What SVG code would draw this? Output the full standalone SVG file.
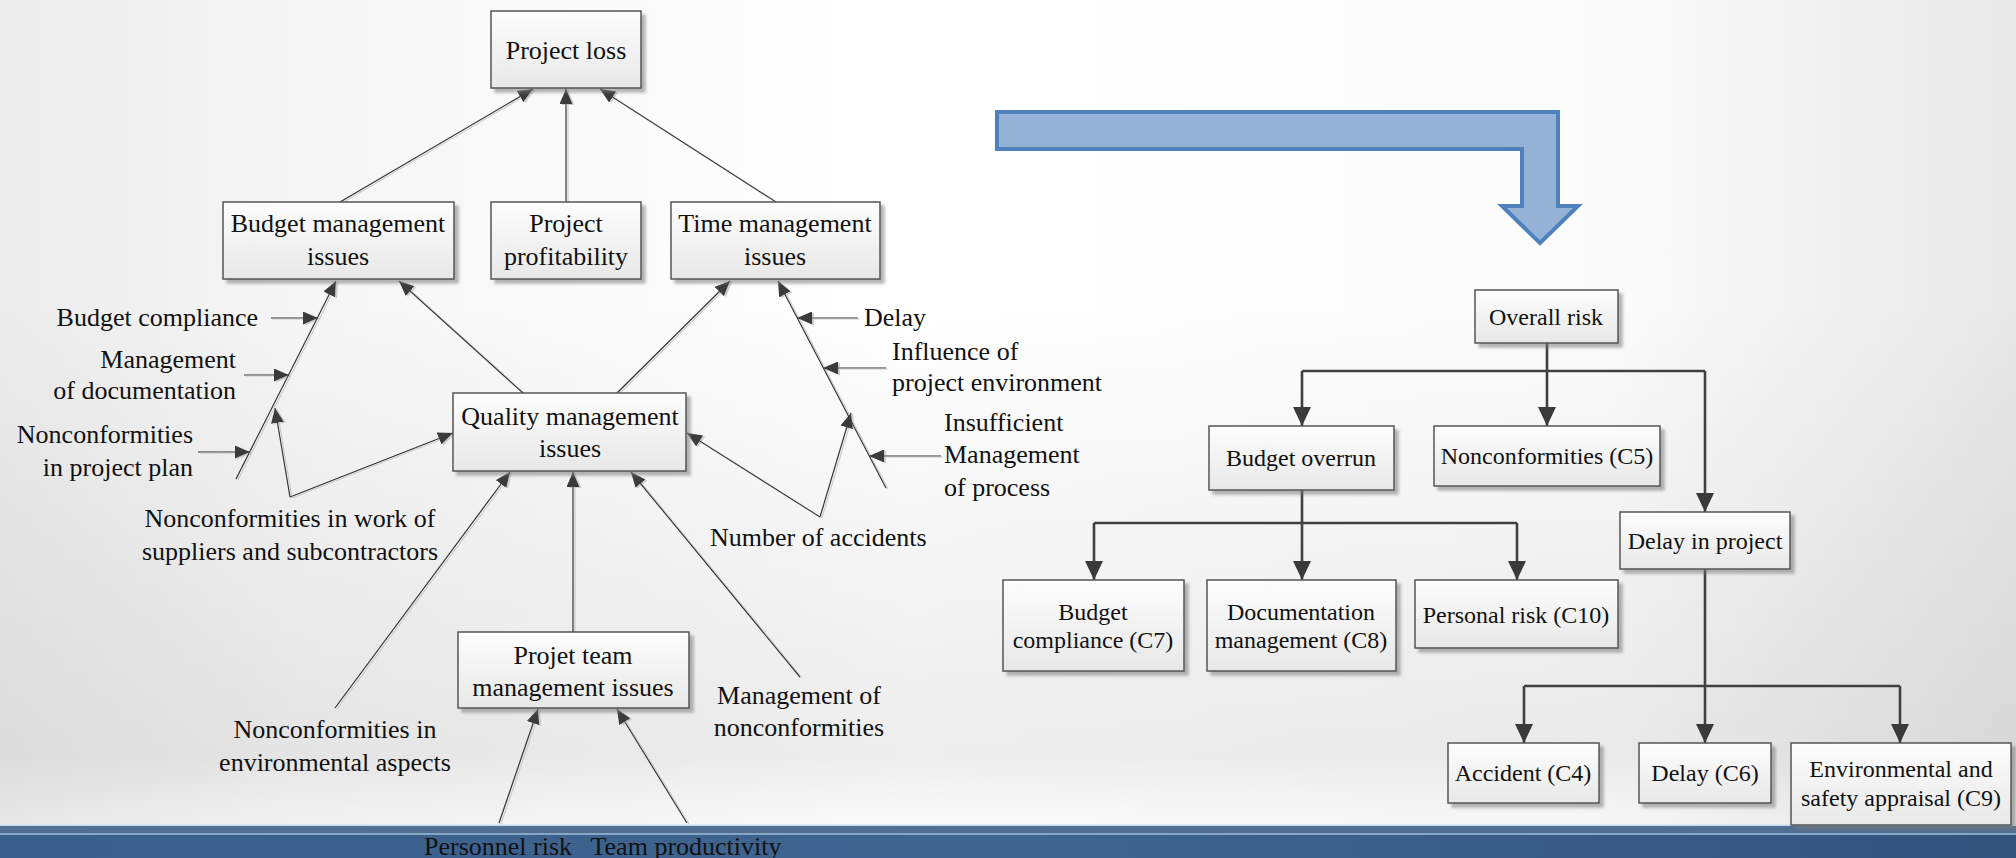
<svg xmlns="http://www.w3.org/2000/svg" width="2016" height="858" viewBox="0 0 2016 858">
  <defs>
    <linearGradient id="bg" x1="0" y1="0" x2="1" y2="0">
      <stop offset="0" stop-color="#ececec"/>
      <stop offset="0.15" stop-color="#f6f6f6"/>
      <stop offset="0.45" stop-color="#ffffff"/>
      <stop offset="0.8" stop-color="#fbfbfb"/>
      <stop offset="1" stop-color="#e8e8e8"/>
    </linearGradient>
    <linearGradient id="bgshade" x1="0" y1="0" x2="0" y2="1">
      <stop offset="0" stop-color="#000000" stop-opacity="0"/>
      <stop offset="0.35" stop-color="#000000" stop-opacity="0"/>
      <stop offset="0.88" stop-color="#000000" stop-opacity="0.07"/>
      <stop offset="0.94" stop-color="#000000" stop-opacity="0.03"/>
      <stop offset="0.96" stop-color="#000000" stop-opacity="0.02"/>
      <stop offset="1" stop-color="#000000" stop-opacity="0.02"/>
    </linearGradient>
    <linearGradient id="boxfill" x1="0" y1="0" x2="0" y2="1">
      <stop offset="0" stop-color="#fdfdfd"/>
      <stop offset="1" stop-color="#e8e8e8"/>
    </linearGradient>
    <linearGradient id="band" x1="0" y1="0" x2="1" y2="0">
      <stop offset="0" stop-color="#3a5e8c"/>
      <stop offset="0.5" stop-color="#40658f"/>
      <stop offset="1" stop-color="#33537d"/>
    </linearGradient>
    <filter id="boxshadow" x="-10%" y="-10%" width="130%" height="130%">
      <feDropShadow dx="4" dy="4" stdDeviation="1.5" flood-color="#7a7a7a" flood-opacity="0.55"/>
    </filter>
    <filter id="lineshadow" x="-5%" y="-5%" width="110%" height="110%">
      <feDropShadow dx="2" dy="1" stdDeviation="0.6" flood-color="#c8c8c8" flood-opacity="0.9"/>
    </filter>
    <marker id="ah" markerUnits="userSpaceOnUse" markerWidth="15" markerHeight="13" refX="15" refY="6.5" orient="auto">
      <path d="M0,0 L15,6.5 L0,13 z" fill="#3a3a3a"/>
    </marker>
    <marker id="ahb" markerUnits="userSpaceOnUse" markerWidth="19" markerHeight="18" refX="19" refY="9" orient="auto">
      <path d="M0,0 L19,9 L0,18 z" fill="#3a3a3a"/>
    </marker>
    <style>
      .box { fill: url(#boxfill); stroke: #555555; stroke-width: 1.5; filter: url(#boxshadow); }
      .t { font-family: "Liberation Serif", "Times New Roman", serif; font-size: 26px; fill: #111111; }
      .r { font-family: "Liberation Serif", "Times New Roman", serif; font-size: 24px; fill: #111111; }
      .c { text-anchor: middle; }
      .e { text-anchor: end; }
      .thin { fill: none; stroke: #333333; stroke-width: 1.2; marker-end: url(#ah); }
      .thick { fill: none; stroke: #404040; stroke-width: 2.6; }
      .thickarrow { fill: none; stroke: #404040; stroke-width: 2.6; marker-end: url(#ahb); }
    </style>
  </defs>

  <!-- background -->
  <rect x="0" y="0" width="2016" height="858" fill="url(#bg)"/>
  <rect x="0" y="0" width="2016" height="858" fill="url(#bgshade)"/>

  <!-- footer band -->
  <g id="footer">
    <rect x="0" y="825" width="2016" height="33" fill="url(#band)"/>
    <rect x="0" y="826" width="2016" height="7" fill="#4f6f93"/>
    <rect x="0" y="824.5" width="2016" height="1.5" fill="#c4def0"/>
    <rect x="0" y="833" width="2016" height="2" fill="#86a6c6"/>
  </g>

  <!-- left diagram connectors -->
  <g id="connectors-left" filter="url(#lineshadow)">
    <path class="thin" d="M340,202 L533,89"/>
    <path class="thin" d="M566,202 L566,89"/>
    <path class="thin" d="M776,202 L600,89"/>
    <path class="thin" d="M523,393 L399,281"/>
    <path class="thin" d="M617,393 L730,281"/>
    <path class="thin" d="M236,479 L336,281"/>
    <path class="thin" d="M271,318 L318,318"/>
    <path class="thin" d="M244,375 L289,375"/>
    <path class="thin" d="M198,452 L250,452"/>
    <path class="thin" d="M290,497 L275,408"/>
    <path class="thin" d="M290,497 L453,433"/>
    <path class="thin" d="M886,488 L778,281"/>
    <path class="thin" d="M858,318 L797,318"/>
    <path class="thin" d="M886,368 L823,368"/>
    <path class="thin" d="M941,456 L869,456"/>
    <path class="thin" d="M820,517 L851,413"/>
    <path class="thin" d="M820,517 L687,433"/>
    <path class="thin" d="M335,708 L510,472"/>
    <path class="thin" d="M573,632 L573,472"/>
    <path class="thin" d="M800,677 L631,472"/>
    <path class="thin" d="M499,823 L538,709"/>
    <path class="thin" d="M687,823 L617,709"/>
  </g>

  <!-- left diagram nodes -->
  <g id="project-loss">
    <rect class="box" x="491" y="11" width="150" height="77"/>
    <text class="t c" x="566" y="59">Project loss</text>
  </g>
  <g id="budget-management">
    <rect class="box" x="223" y="202" width="231" height="77"/>
    <text class="t c" x="338" y="232">Budget management</text>
    <text class="t c" x="338" y="265">issues</text>
  </g>
  <g id="project-profitability">
    <rect class="box" x="491" y="202" width="150" height="77"/>
    <text class="t c" x="566" y="232">Project</text>
    <text class="t c" x="566" y="265">profitability</text>
  </g>
  <g id="time-management">
    <rect class="box" x="671" y="202" width="209" height="77"/>
    <text class="t c" x="775" y="232">Time management</text>
    <text class="t c" x="775" y="265">issues</text>
  </g>
  <g id="quality-management">
    <rect class="box" x="453" y="393" width="233" height="78"/>
    <text class="t c" x="570" y="425">Quality management</text>
    <text class="t c" x="570" y="457">issues</text>
  </g>
  <g id="team-management">
    <rect class="box" x="458" y="632" width="231" height="76"/>
    <text class="t c" x="573" y="664">Projet team</text>
    <text class="t c" x="573" y="696">management issues</text>
  </g>

  <!-- left diagram factor labels -->
  <g id="budget-compliance-label">
    <text class="t e" x="258" y="326">Budget compliance</text>
  </g>
  <g id="documentation-label">
    <text class="t e" x="236" y="368">Management</text>
    <text class="t e" x="236" y="399">of documentation</text>
  </g>
  <g id="plan-label">
    <text class="t e" x="193" y="443">Nonconformities</text>
    <text class="t e" x="193" y="476">in project plan</text>
  </g>
  <g id="suppliers-label">
    <text class="t c" x="290" y="527">Nonconformities in work of</text>
    <text class="t c" x="290" y="560">suppliers and subcontractors</text>
  </g>
  <g id="delay-label">
    <text class="t" x="864" y="326">Delay</text>
  </g>
  <g id="environment-label">
    <text class="t" x="892" y="360">Influence of</text>
    <text class="t" x="892" y="391">project environment</text>
  </g>
  <g id="process-label">
    <text class="t" x="944" y="431">Insufficient</text>
    <text class="t" x="944" y="463">Management</text>
    <text class="t" x="944" y="496">of process</text>
  </g>
  <g id="accidents-label">
    <text class="t" x="710" y="546">Number of accidents</text>
  </g>
  <g id="env-aspects-label">
    <text class="t c" x="335" y="738">Nonconformities in</text>
    <text class="t c" x="335" y="771">environmental aspects</text>
  </g>
  <g id="nonconformities-mgmt-label">
    <text class="t c" x="799" y="704">Management of</text>
    <text class="t c" x="799" y="736">nonconformities</text>
  </g>
  <g id="personnel-label">
    <text class="t c" x="498" y="855">Personnel risk</text>
  </g>
  <g id="productivity-label">
    <text class="t c" x="686" y="855">Team productivity</text>
  </g>

  <!-- transition arrow -->
  <g id="transition-arrow">
    <path d="M997,112 L1558,112 L1558,206 L1578,206 L1540,243 L1502,206 L1522,206 L1522,149 L997,149 Z" fill="#95b3d7" stroke="#4f81bd" stroke-width="4" stroke-linejoin="miter"/>
  </g>

  <!-- right tree connectors -->
  <g id="connectors-right">
    <path class="thick" d="M1547,343 L1547,371 M1302,371 L1705,371"/>
    <path class="thickarrow" d="M1302,371 L1302,426"/>
    <path class="thickarrow" d="M1547,371 L1547,426"/>
    <path class="thickarrow" d="M1705,371 L1705,512"/>
    <path class="thick" d="M1302,490 L1302,523 M1094,523 L1517,523"/>
    <path class="thickarrow" d="M1094,523 L1094,580"/>
    <path class="thickarrow" d="M1302,523 L1302,580"/>
    <path class="thickarrow" d="M1517,523 L1517,580"/>
    <path class="thick" d="M1705,569 L1705,686 M1524,686 L1900,686"/>
    <path class="thickarrow" d="M1524,686 L1524,743"/>
    <path class="thickarrow" d="M1705,686 L1705,743"/>
    <path class="thickarrow" d="M1900,686 L1900,743"/>
  </g>

  <!-- right tree nodes -->
  <g id="overall-risk">
    <rect class="box" x="1475" y="290" width="143" height="53"/>
    <text class="r c" x="1546" y="325">Overall risk</text>
  </g>
  <g id="budget-overrun">
    <rect class="box" x="1209" y="426" width="185" height="64"/>
    <text class="r c" x="1301" y="466">Budget overrun</text>
  </g>
  <g id="nonconformities-c5">
    <rect class="box" x="1434" y="426" width="226" height="60"/>
    <text class="r c" x="1547" y="464">Nonconformities (C5)</text>
  </g>
  <g id="delay-in-project">
    <rect class="box" x="1620" y="512" width="170" height="57"/>
    <text class="r c" x="1705" y="549">Delay in project</text>
  </g>
  <g id="budget-compliance-c7">
    <rect class="box" x="1003" y="580" width="181" height="91"/>
    <text class="r c" x="1093" y="620">Budget</text>
    <text class="r c" x="1093" y="648">compliance (C7)</text>
  </g>
  <g id="documentation-c8">
    <rect class="box" x="1207" y="580" width="189" height="91"/>
    <text class="r c" x="1301" y="620">Documentation</text>
    <text class="r c" x="1301" y="648">management (C8)</text>
  </g>
  <g id="personal-risk-c10">
    <rect class="box" x="1415" y="580" width="203" height="68"/>
    <text class="r c" x="1516" y="623">Personal risk (C10)</text>
  </g>
  <g id="accident-c4">
    <rect class="box" x="1448" y="743" width="151" height="60"/>
    <text class="r c" x="1523" y="781">Accident (C4)</text>
  </g>
  <g id="delay-c6">
    <rect class="box" x="1639" y="743" width="132" height="60"/>
    <text class="r c" x="1705" y="781">Delay (C6)</text>
  </g>
  <g id="appraisal-c9">
    <rect class="box" x="1791" y="743" width="220" height="82"/>
    <text class="r c" x="1901" y="777">Environmental and</text>
    <text class="r c" x="1901" y="806">safety appraisal (C9)</text>
  </g>
</svg>
